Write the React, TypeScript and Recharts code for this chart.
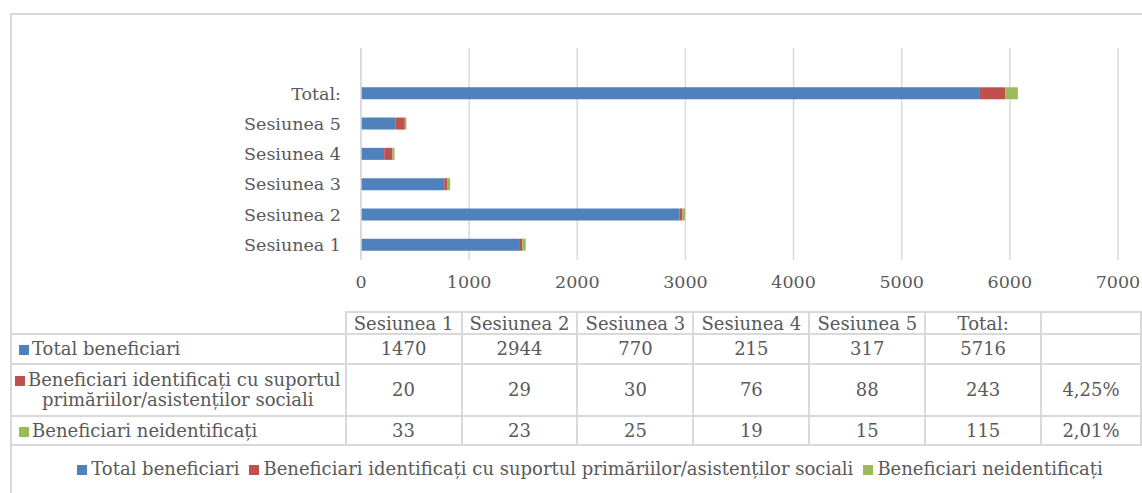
import React from 'react';
import { BarChart, Bar, XAxis, YAxis, CartesianGrid, Legend } from 'recharts';

// categories (last one is the blank percentage column of the data table)
const categories = ['Sesiunea 1', 'Sesiunea 2', 'Sesiunea 3', 'Sesiunea 4', 'Sesiunea 5', 'Total:', ''];
const totalBeneficiari = [1470, 2944, 770, 215, 317, 5716, null];
const identificati = [20, 29, 30, 76, 88, 243, 0.0425];
const neidentificati = [33, 23, 25, 19, 15, 115, 0.0201];
const xTicks = [0, 1000, 2000, 3000, 4000, 5000, 6000, 7000];

const seriesKeys = ['total', 'ident', 'neident'];
const seriesNames = [
  'Total beneficiari',
  'Beneficiari identificați cu suportul primăriilor/asistenților sociali',
  'Beneficiari neidentificați',
];
const seriesValues = [totalBeneficiari, identificati, neidentificati];
const seriesColors = ['#4f81bd', '#c0504d', '#9bbb59'];

const FONT = '"DejaVu Serif", serif';
const TEXT = '#595959';
const GRID = '#d9d9d9';

const data = categories.map((name, i) => ({
  name,
  total: totalBeneficiari[i],
  ident: identificati[i],
  neident: neidentificati[i],
}));

const formatCell = (cat: string, v: number | null) => {
  if (v === null || v === undefined) return '';
  if (cat === '') return `${(v * 100).toFixed(2).replace('.', ',')}%`;
  return String(v);
};

const colWidths = [335, 116, 116, 116, 116, 116, 116, 100];
const rowHeights = [30, 52, 29];

const cellBorder = `2px solid ${GRID}`;

const DataTable = () => (
  <table
    style={{
      position: 'absolute',
      left: 11,
      top: 311,
      borderCollapse: 'collapse',
      tableLayout: 'fixed',
      fontFamily: FONT,
      fontSize: 18,
      color: TEXT,
    }}
  >
    <colgroup>
      {colWidths.map((w, i) => (
        <col key={i} style={{ width: w }} />
      ))}
    </colgroup>
    <tbody>
      <tr style={{ height: 22 }}>
        <td style={{ border: 'none', padding: 0 }} />
        {categories.map((c, i) => (
          <td key={i} style={{ border: cellBorder, textAlign: 'center', padding: 0, lineHeight: '19px', whiteSpace: 'nowrap' }}>
            {c}
          </td>
        ))}
      </tr>
      {seriesNames.map((s, r) => (
        <tr key={s} style={{ height: rowHeights[r] }}>
          <td
            style={{
              borderTop: cellBorder,
              borderBottom: cellBorder,
              borderRight: cellBorder,
              borderLeft: 'none',
              textAlign: r === 1 ? 'center' : 'left',
              padding: r === 1 ? 0 : '0 0 0 8px',
              lineHeight: '20px',
            }}
          >
            <span
              style={{
                display: 'inline-block',
                width: 10,
                height: 10,
                background: seriesColors[r],
                marginRight: 3,
              }}
            />
            {s}
          </td>
          {categories.map((c, i) => (
            <td key={i} style={{ border: cellBorder, textAlign: 'center', padding: 0, lineHeight: '20px', whiteSpace: 'nowrap' }}>
              {formatCell(c, seriesValues[r][i])}
            </td>
          ))}
        </tr>
      ))}
    </tbody>
  </table>
);

export default function App() {
  return (
    <div
      style={{
        position: 'absolute',
        left: 0,
        top: 0,
        width: 1142,
        height: 493,
        overflow: 'hidden',
        background: '#fff',
      }}
    >
      <div
        style={{
          position: 'absolute',
          left: 10,
          top: 13,
          width: 1150,
          height: 500,
          borderTop: `2px solid ${GRID}`,
          borderLeft: `2px solid ${GRID}`,
        }}
      />
      <div style={{ position: 'absolute', left: 0, top: 0 }}>
        <BarChart
          layout="vertical"
          width={1142}
          height={493}
          data={data}
          margin={{ top: 48, right: 24, bottom: 193, left: 0 }}
        >
          <CartesianGrid horizontal={false} stroke={GRID} strokeWidth={1.5} />
          <XAxis
            type="number"
            domain={[0, 7000]}
            ticks={xTicks}
            height={40}
            axisLine={false}
            tickLine={false}
            tickSize={0}
            tickMargin={16}
            tick={{ fill: TEXT, fontSize: 17.5, fontFamily: FONT }}
          />
          <YAxis
            type="category"
            dataKey="name"
            reversed
            width={361}
            interval={0}
            tickLine={false}
            tickSize={0}
            tickMargin={20}
            axisLine={{ stroke: GRID, strokeWidth: 1.5 }}
            tick={{ fill: TEXT, fontSize: 17.5, fontFamily: FONT }}
          />
          <Legend
            layout="horizontal"
            verticalAlign="middle"
            align="center"
            iconType="square"
            iconSize={10}
            itemSorter={(item: any) => seriesNames.indexOf(item.value)}
            wrapperStyle={{ top: 458, left: 24, width: 1142, fontFamily: FONT, fontSize: 18 }}
            formatter={(v) => <span style={{ color: TEXT }}>{v}</span>}
          />
          {seriesKeys.map((k, i) => (
            <Bar
              key={k}
              dataKey={k}
              name={seriesNames[i]}
              stackId="a"
              fill={seriesColors[i]}
              barSize={12}
              isAnimationActive={false}
            />
          ))}
        </BarChart>
      </div>
      <DataTable />
    </div>
  );
}
